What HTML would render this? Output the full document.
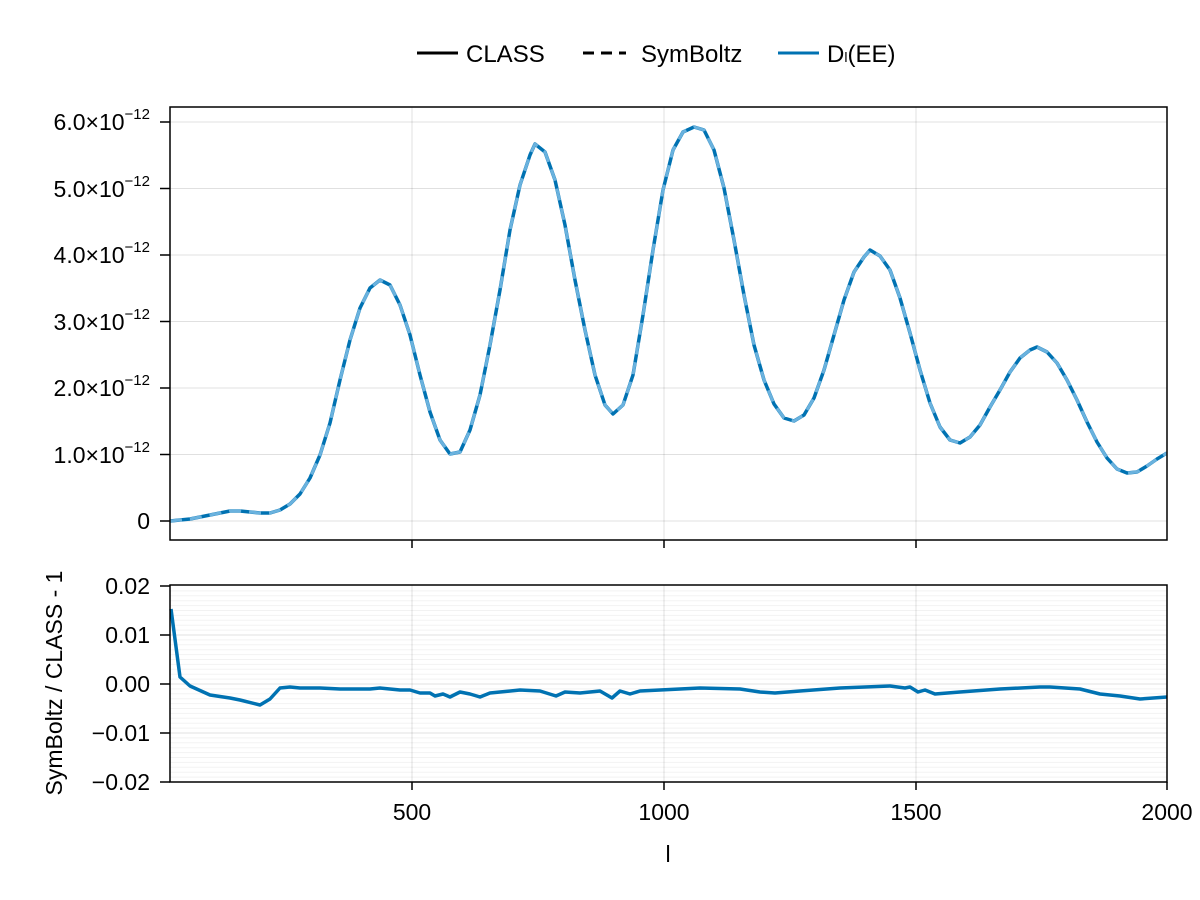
<!DOCTYPE html>
<html><head><meta charset="utf-8"><style>
body{margin:0;background:#fff}
svg{display:block;font-family:"Liberation Sans",sans-serif}
</style></head><body>
<svg width="1200" height="900" viewBox="0 0 1200 900" xmlns="http://www.w3.org/2000/svg">
<rect width="1200" height="900" fill="#fff"/>
<g font-size="24" fill="#000">
<line x1="417" y1="53" x2="458" y2="53" stroke="#000" stroke-width="3"/>
<text x="466" y="62">CLASS</text>
<line x1="583" y1="53" x2="626" y2="53" stroke="#000" stroke-width="3" stroke-dasharray="11,7"/>
<text x="641" y="62">SymBoltz</text>
<line x1="778" y1="53" x2="819" y2="53" stroke="#0072b2" stroke-width="3"/>
<text x="827" y="62">D<tspan font-size="14">l</tspan>(EE)</text>
</g>
<g stroke="#000" stroke-opacity="0.12" stroke-width="1">
<line x1="412" y1="107" x2="412" y2="540"/><line x1="664" y1="107" x2="664" y2="540"/><line x1="916" y1="107" x2="916" y2="540"/>
<line x1="170" y1="521" x2="1167" y2="521"/><line x1="170" y1="454.5" x2="1167" y2="454.5"/><line x1="170" y1="388" x2="1167" y2="388"/><line x1="170" y1="321.5" x2="1167" y2="321.5"/><line x1="170" y1="255" x2="1167" y2="255"/><line x1="170" y1="188.5" x2="1167" y2="188.5"/><line x1="170" y1="122" x2="1167" y2="122"/>
</g>
<clipPath id="c1"><rect x="170" y="107" width="997" height="433"/></clipPath>
<g clip-path="url(#c1)" fill="none" stroke-linejoin="round">
<polyline stroke="#0072b2" stroke-width="3.5" points="170,521 180,520 190,519 200,517 210,515 220,513 230,511 240,511 250,512 260,513 270,513 280,510 290,504 300,494 310,478 320,455 330,423 340,380 350,340 360,308 370,288 380,280 390,285 400,305 410,335 420,375 430,412 440,440 450,454 460,452 470,430 480,395 490,345 500,290 510,230 520,185 530,155 535,144 545,152 555,180 565,225 575,280 585,330 595,375 605,405 613,414 623,405 633,375 643,315 653,250 663,190 673,150 683,132 694,127 704,130 714,150 724,188 734,240 744,295 754,345 764,380 774,404 784,418 794,421 804,415 814,398 824,370 834,335 844,300 854,272 864,257 870,250 880,256 890,270 900,298 910,333 920,370 930,403 940,427 950,440 960,443 970,437 980,425 990,407 1000,390 1010,372 1020,358 1030,350 1037,347 1047,352 1057,363 1067,380 1077,400 1087,422 1097,442 1107,458 1117,469 1127,473 1137,472 1147,466 1157,459 1167,453"/>
<polyline stroke="#6ab2de" stroke-width="3" stroke-dasharray="12,8" points="170,521 180,520 190,519 200,517 210,515 220,513 230,511 240,511 250,512 260,513 270,513 280,510 290,504 300,494 310,478 320,455 330,423 340,380 350,340 360,308 370,288 380,280 390,285 400,305 410,335 420,375 430,412 440,440 450,454 460,452 470,430 480,395 490,345 500,290 510,230 520,185 530,155 535,144 545,152 555,180 565,225 575,280 585,330 595,375 605,405 613,414 623,405 633,375 643,315 653,250 663,190 673,150 683,132 694,127 704,130 714,150 724,188 734,240 744,295 754,345 764,380 774,404 784,418 794,421 804,415 814,398 824,370 834,335 844,300 854,272 864,257 870,250 880,256 890,270 900,298 910,333 920,370 930,403 940,427 950,440 960,443 970,437 980,425 990,407 1000,390 1010,372 1020,358 1030,350 1037,347 1047,352 1057,363 1067,380 1077,400 1087,422 1097,442 1107,458 1117,469 1127,473 1137,472 1147,466 1157,459 1167,453"/>
</g>
<rect x="170" y="107" width="997" height="433" fill="none" stroke="#000" stroke-width="1.5"/>
<g stroke="#000" stroke-width="1.5">
<line x1="160" y1="521" x2="170" y2="521"/><line x1="160" y1="454.5" x2="170" y2="454.5"/><line x1="160" y1="388" x2="170" y2="388"/><line x1="160" y1="321.5" x2="170" y2="321.5"/><line x1="160" y1="255" x2="170" y2="255"/><line x1="160" y1="188.5" x2="170" y2="188.5"/><line x1="160" y1="122" x2="170" y2="122"/>
<line x1="412" y1="540" x2="412" y2="548"/><line x1="664" y1="540" x2="664" y2="548"/><line x1="916" y1="540" x2="916" y2="548"/>
</g>
<g font-size="23" fill="#000" text-anchor="end">
<text x="150" y="529">0</text>
<text x="150" y="463">1.0×10<tspan font-size="15" dy="-11">−12</tspan></text>
<text x="150" y="396">2.0×10<tspan font-size="15" dy="-11">−12</tspan></text>
<text x="150" y="330">3.0×10<tspan font-size="15" dy="-11">−12</tspan></text>
<text x="150" y="263">4.0×10<tspan font-size="15" dy="-11">−12</tspan></text>
<text x="150" y="197">5.0×10<tspan font-size="15" dy="-11">−12</tspan></text>
<text x="150" y="130">6.0×10<tspan font-size="15" dy="-11">−12</tspan></text>
</g>
<g stroke="#000" stroke-opacity="0.05" stroke-width="1">
<line x1="170" y1="590.9" x2="1167" y2="590.9"/><line x1="170" y1="595.8" x2="1167" y2="595.8"/><line x1="170" y1="600.7" x2="1167" y2="600.7"/><line x1="170" y1="605.6" x2="1167" y2="605.6"/><line x1="170" y1="610.5" x2="1167" y2="610.5"/><line x1="170" y1="615.4" x2="1167" y2="615.4"/><line x1="170" y1="620.3" x2="1167" y2="620.3"/><line x1="170" y1="625.2" x2="1167" y2="625.2"/><line x1="170" y1="630.1" x2="1167" y2="630.1"/>
<line x1="170" y1="639.9" x2="1167" y2="639.9"/><line x1="170" y1="644.8" x2="1167" y2="644.8"/><line x1="170" y1="649.7" x2="1167" y2="649.7"/><line x1="170" y1="654.6" x2="1167" y2="654.6"/><line x1="170" y1="659.5" x2="1167" y2="659.5"/><line x1="170" y1="664.4" x2="1167" y2="664.4"/><line x1="170" y1="669.3" x2="1167" y2="669.3"/><line x1="170" y1="674.2" x2="1167" y2="674.2"/><line x1="170" y1="679.1" x2="1167" y2="679.1"/>
<line x1="170" y1="688.9" x2="1167" y2="688.9"/><line x1="170" y1="693.8" x2="1167" y2="693.8"/><line x1="170" y1="698.7" x2="1167" y2="698.7"/><line x1="170" y1="703.6" x2="1167" y2="703.6"/><line x1="170" y1="708.5" x2="1167" y2="708.5"/><line x1="170" y1="713.4" x2="1167" y2="713.4"/><line x1="170" y1="718.3" x2="1167" y2="718.3"/><line x1="170" y1="723.2" x2="1167" y2="723.2"/><line x1="170" y1="728.1" x2="1167" y2="728.1"/>
<line x1="170" y1="737.9" x2="1167" y2="737.9"/><line x1="170" y1="742.8" x2="1167" y2="742.8"/><line x1="170" y1="747.7" x2="1167" y2="747.7"/><line x1="170" y1="752.6" x2="1167" y2="752.6"/><line x1="170" y1="757.5" x2="1167" y2="757.5"/><line x1="170" y1="762.4" x2="1167" y2="762.4"/><line x1="170" y1="767.3" x2="1167" y2="767.3"/><line x1="170" y1="772.2" x2="1167" y2="772.2"/><line x1="170" y1="777.1" x2="1167" y2="777.1"/>
</g>
<g stroke="#000" stroke-opacity="0.12" stroke-width="1">
<line x1="412" y1="585" x2="412" y2="782"/><line x1="664" y1="585" x2="664" y2="782"/><line x1="916" y1="585" x2="916" y2="782"/>
<line x1="170" y1="635" x2="1167" y2="635"/><line x1="170" y1="684" x2="1167" y2="684"/><line x1="170" y1="733" x2="1167" y2="733"/>
</g>
<polyline fill="none" stroke="#0072b2" stroke-width="3.5" stroke-linejoin="round" points="171,609 180,677 190,686 210,695 230,698 240,700 260,705 270,699 280,688 290,687 300,688 320,688 340,689 370,689 380,688 400,690 410,690 420,693 430,693 435,696 443,694 450,697 460,692 470,694 480,697 490,693 500,692 520,690 540,691 556,696 565,692 580,693 600,691 612,698 620,691 630,694 640,691 660,690 700,688 740,689 760,692 775,693 800,691 840,688 890,686 905,688 910,687 918,692 925,690 935,694 960,692 1000,689 1040,687 1050,687 1080,689 1100,694 1120,696 1140,699 1167,697"/>
<rect x="170" y="585" width="997" height="197" fill="none" stroke="#000" stroke-width="1.5"/>
<g stroke="#000" stroke-width="1.5">
<line x1="160" y1="586" x2="170" y2="586"/><line x1="160" y1="635" x2="170" y2="635"/><line x1="160" y1="684" x2="170" y2="684"/><line x1="160" y1="733" x2="170" y2="733"/><line x1="160" y1="782" x2="170" y2="782"/>
<line x1="412" y1="782" x2="412" y2="790"/><line x1="664" y1="782" x2="664" y2="790"/><line x1="916" y1="782" x2="916" y2="790"/><line x1="1167" y1="782" x2="1167" y2="790"/>
</g>
<g font-size="23" fill="#000" text-anchor="end">
<text x="150" y="594">0.02</text>
<text x="150" y="643">0.01</text>
<text x="150" y="692">0.00</text>
<text x="150" y="741">−0.01</text>
<text x="150" y="790">−0.02</text>
</g>
<g font-size="23" fill="#000" text-anchor="middle">
<text x="412" y="820">500</text>
<text x="664" y="820">1000</text>
<text x="916" y="820">1500</text>
<text x="1167" y="820">2000</text>
<text x="668" y="862">l</text>
<text transform="translate(62,683) rotate(-90)">SymBoltz / CLASS - 1</text>
</g>
</svg>
</body></html>
